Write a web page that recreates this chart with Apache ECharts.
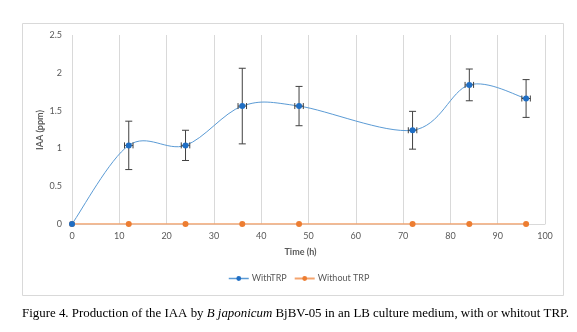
<!DOCTYPE html>
<html>
<head>
<meta charset="utf-8">
<script src="https://cdn.jsdelivr.net/npm/echarts@6/dist/echarts.min.js"></script>
<style>html,body{margin:0;padding:0;background:#fff;}#c{width:577px;height:332px;}</style>
</head>
<body>
<div id="c"></div>
<script>
var times = [0, 12, 24, 36, 48, 72, 84, 96];
var withTrp = [0, 1.04, 1.04, 1.56, 1.56, 1.24, 1.84, 1.66];
var withTrpErrY = [0, 0.32, 0.2, 0.5, 0.26, 0.25, 0.21, 0.25];
var withTrpErrX = [0, 0.9, 0.9, 0.9, 0.9, 0.9, 0.9, 0.9];
var withoutTrp = [0, 0, 0, 0, 0, 0, 0, 0];
var seriesNames = ['WithTRP', 'Without TRP'];
var xTitle = 'Time (h)';
var yTitle = 'IAA (ppm)';

var chart = echarts.init(document.getElementById('c'), null, {renderer: 'canvas'});
var labelFont = 'Lato, "Noto Sans", sans-serif';
var blueLine = '#5b9bd5', blueMark = '#1f6ec4';
var orangeLine = '#f4a46e', orangeMark = '#ed7d31';
var serif = '"Liberation Serif", "DejaVu Serif", serif';

var pts = times.map(function (t, i) { return [t, withTrp[i]]; });

var option = {
  animation: false,
  backgroundColor: '#fff',
  graphic: [{
    type: 'rect', z: -10, silent: true,
    shape: {x: 22.5, y: 23.5, width: 541, height: 272},
    style: {fill: '#fff', stroke: '#d9d9d9', lineWidth: 1}
  }, {
    type: 'text', silent: true, x: 40, y: 130, rotation: Math.PI / 2,
    style: {text: yTitle, fontFamily: labelFont, fontSize: 9, fontWeight: 'bold', fill: '#595959', align: 'center', verticalAlign: 'middle'}
  }],
  title: {
    left: 17, top: 302,
    text: '{a|Figure 4. Production of the IAA by }{b|B japonicum}{a| BjBV-05 in an LB culture medium, with or whitout TRP.}',
    textStyle: {
      fontWeight: 'normal',
      rich: {
        a: {fontFamily: serif, fontSize: 12.9, fontWeight: 'normal', color: '#000'},
        b: {fontFamily: serif, fontSize: 12.9, fontWeight: 'normal', color: '#000', fontStyle: 'italic'}
      }
    }
  },
  grid: {left: 72, right: 32, top: 35, bottom: 108, containLabel: false},
  legend: {
    data: [
      {name: seriesNames[0], lineStyle: {color: blueLine, width: 1.5, opacity: 1}},
      {name: seriesNames[1]}
    ],
    left: 223, top: 269,
    itemWidth: 20, itemHeight: 6, itemGap: 7,
    textStyle: {fontFamily: labelFont, fontSize: 9, color: '#595959', padding: [0, 0, 0, -2]}
  },
  xAxis: {
    type: 'value', min: 0, max: 100, interval: 10,
    name: xTitle, nameLocation: 'middle', nameGap: 24,
    nameTextStyle: {fontFamily: labelFont, fontSize: 9, fontWeight: 'bold', color: '#595959', padding: [0, 16, 0, 0]},
    axisLine: {show: true, lineStyle: {color: '#d9d9d9'}},
    axisTick: {show: false},
    axisLabel: {fontFamily: labelFont, fontSize: 9, color: '#595959', margin: 8},
    splitLine: {show: true, lineStyle: {color: '#d9d9d9', width: 1}}
  },
  yAxis: {
    type: 'value', min: 0, max: 2.5, interval: 0.5,
    axisLine: {show: false},
    axisTick: {show: false},
    axisLabel: {fontFamily: labelFont, fontSize: 9, color: '#595959', margin: 10},
    splitLine: {show: false}
  },
  series: [
    {
      name: seriesNames[0], type: 'line', z: 5,
      data: pts,
      symbol: 'circle', symbolSize: 6,
      lineStyle: {color: blueLine, width: 1, opacity: 0},
      itemStyle: {color: blueMark}
    },
    {
      name: seriesNames[1], type: 'line', z: 4,
      data: times.map(function (t, i) { return [t, withoutTrp[i]]; }),
      symbol: 'circle', symbolSize: 6,
      lineStyle: {color: orangeLine, width: 1.5},
      itemStyle: {color: orangeMark}
    },
    {
      // Excel-style smoothed line (Catmull-Rom through the data points, in pixel space)
      name: 'smooth', type: 'custom', z: 3, silent: true,
      data: pts.slice(0, pts.length - 1).map(function (p, i) { return [p[0], p[1], i]; }),
      renderItem: function (params, api) {
        var i = api.value(2);
        var n = pts.length;
        function c(k) { k = Math.max(0, Math.min(n - 1, k)); return api.coord(pts[k]); }
        var p0 = c(i - 1), p1 = c(i), p2 = c(i + 1), p3 = c(i + 2);
        var cp1 = [p1[0] + (p2[0] - p0[0]) / 6, p1[1] + (p2[1] - p0[1]) / 6];
        var cp2 = [p2[0] - (p3[0] - p1[0]) / 6, p2[1] - (p3[1] - p1[1]) / 6];
        return {
          type: 'bezierCurve',
          shape: {x1: p1[0], y1: p1[1], cpx1: cp1[0], cpy1: cp1[1], cpx2: cp2[0], cpy2: cp2[1], x2: p2[0], y2: p2[1]},
          style: {stroke: blueLine, lineWidth: 1, fill: null}
        };
      }
    },
    {
      name: 'err', type: 'custom', z: 3, silent: true,
      data: times.map(function (t, i) { return [t, withTrp[i], withTrpErrY[i], withTrpErrX[i]]; }).filter(function (d) { return d[2] > 0; }),
      renderItem: function (params, api) {
        var x = api.value(0), y = api.value(1), ey = api.value(2), ex = api.value(3);
        var top = api.coord([x, y + ey]);
        var bot = api.coord([x, y - ey]);
        var l = api.coord([x - ex, y]);
        var r = api.coord([x + ex, y]);
        var cw = 3.5, ch = 3;
        var st = {stroke: '#404040', lineWidth: 1};
        function ln(x1, y1, x2, y2) { return {type: 'line', shape: {x1: x1, y1: y1, x2: x2, y2: y2}, style: st}; }
        return {type: 'group', children: [
          ln(top[0], top[1], bot[0], bot[1]),
          ln(top[0] - cw, top[1], top[0] + cw, top[1]),
          ln(bot[0] - cw, bot[1], bot[0] + cw, bot[1]),
          ln(l[0], l[1], r[0], r[1]),
          ln(l[0], l[1] - ch, l[0], l[1] + ch),
          ln(r[0], r[1] - ch, r[0], r[1] + ch)
        ]};
      }
    }
  ]
};
chart.setOption(option);
</script>
</body>
</html>
